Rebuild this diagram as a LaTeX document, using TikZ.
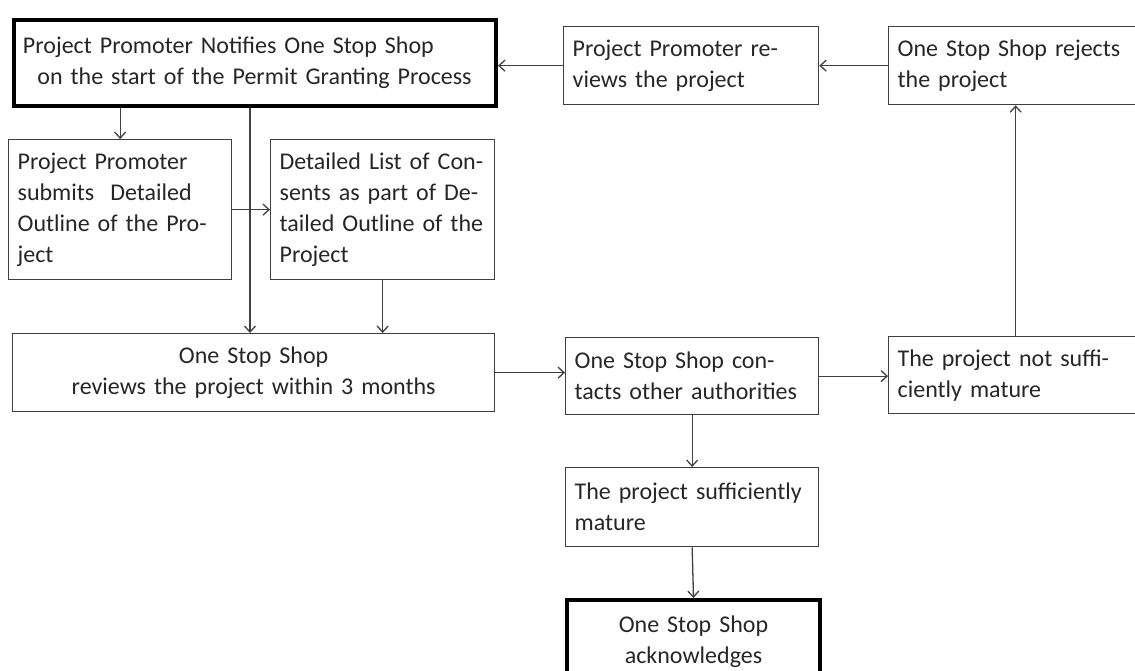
\documentclass[tikz,border=0pt]{standalone}
\usepackage{fontspec}
\setmainfont{Carlito}
\usetikzlibrary{arrows.meta}
\definecolor{linegray}{HTML}{404040}
\definecolor{textgray}{HTML}{262626}
\hyphenpenalty=10000
\tikzset{
  stepbox/.style={draw=linegray, line width=1.3pt, anchor=north west, inner xsep=9pt, inner ysep=0pt,
    align=left, text=textgray, font=\fontsize{24}{31}\selectfont},
  keybox/.style={stepbox, draw=black, line width=4pt},
  flow/.style={draw=linegray, line width=1.3pt, -{Straight Barb[length=6pt,width=11pt]}},
}
\begin{document}
\begin{tikzpicture}[x=1pt,y=-1pt]
    \useasboundingbox (0,0) rectangle (1135,671);
    \node[keybox, text width=464pt, minimum height=86pt] (notify) at (12,18) {Project Promoter Notifies One Stop Shop\\\hspace*{0.6em}on the start of the Permit Granting Process};
    \node[stepbox, text width=237pt, minimum height=78pt] (review) at (563,26) {Project Promoter re-\\views the project};
    \node[stepbox, text width=236pt, minimum height=78pt] (reject) at (888,26) {One Stop Shop rejects\\the project};
    \node[stepbox, text width=205pt, minimum height=140pt] (submit) at (8,139) {Project Promoter\\submits~ Detailed\\Outline of the Pro-\\ject};
    \node[stepbox, text width=206pt, minimum height=140pt] (consents) at (270,139) {Detailed List of Con-\\sents as part of De-\\tailed Outline of the\\Project};
    \node[stepbox, align=center, text width=464pt, minimum height=78pt] (check) at (12,333) {One Stop Shop\\reviews the project within 3 months};
    \node[stepbox, text width=235pt, minimum height=77pt] (contact) at (565,337) {One Stop Shop con-\\tacts other authorities};
    \node[stepbox, text width=236pt, minimum height=77pt] (immature) at (888,336) {The project not suffi-\\ciently mature};
    \node[stepbox, text width=235pt, minimum height=79pt] (mature) at (565,467) {The project sufficiently\\mature};
    \node[keybox, align=center, text width=235pt, minimum height=84pt] (ack) at (565,598) {One Stop Shop\\acknowledges};
    \coordinate (split) at (250,0);
    \draw[flow] (review.west) -- (review.west -| notify.east);
    \draw[flow] (reject.west) -- (review.east);
    \draw[flow] (notify.south -| submit.north) -- (submit.north);
    \draw[flow] (notify.south -| split) -- (split |- check.north);
    \draw[flow] (submit.east) -- (consents.west);
    \draw[flow] (consents.south) -- (consents.south |- check.north);
    \draw[flow] (check.east) -- (check.east -| contact.west);
    \draw[flow] (contact.east) -- (contact.east -| immature.west);
    \draw[flow] (immature.north) -- (reject.south);
    \draw[flow] (contact.south) -- (mature.north);
    \draw[flow] (mature.south) -- (ack.north);
\end{tikzpicture}
\end{document}
